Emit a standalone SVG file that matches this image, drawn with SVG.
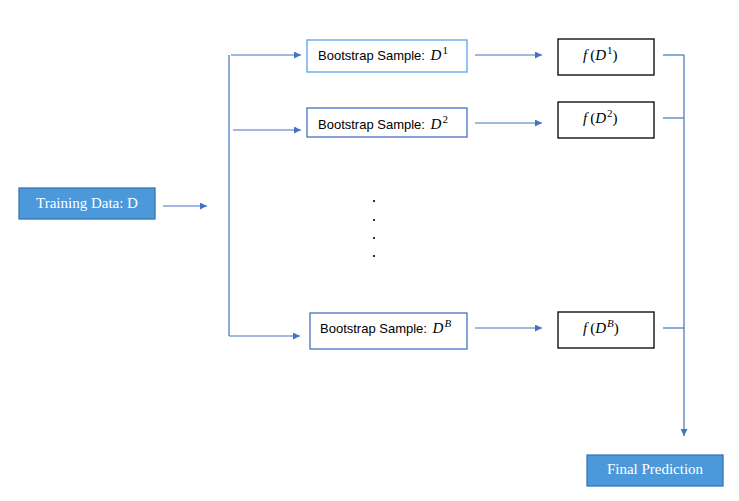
<svg xmlns="http://www.w3.org/2000/svg" width="739" height="501" viewBox="0 0 739 501">
<defs>
<marker id="ah" viewBox="0 0 10 10" refX="10" refY="5" markerWidth="7" markerHeight="7" markerUnits="userSpaceOnUse" orient="auto"><path d="M0,0 L10,5 L0,10 z" fill="#4472C4"/></marker>
<style>
.ln{stroke:#4472C4;stroke-width:1.2;fill:none}
.solid{fill:#4B98DA;stroke:#3A76AE;stroke-width:1.3}
.bs{fill:#fff;stroke:#4472C4;stroke-width:1.3}
.bs1{fill:#fff;stroke:#5BA3E6;stroke-width:1.3}
.fb{fill:#fff;stroke:#000;stroke-width:1.3}
.wt{font-family:"Liberation Serif",serif;font-size:15px;fill:#fff;text-anchor:middle}
.st{font-family:"Liberation Sans",Arial,sans-serif;font-size:13px;fill:#000}
.m{font-family:"Liberation Serif",serif;font-style:italic;font-size:15px}
.sup{font-family:"Liberation Serif",serif;font-style:normal;font-size:11px}
.supi{font-family:"Liberation Serif",serif;font-style:italic;font-size:11px}
.ft{font-family:"Liberation Serif",serif;font-size:15px;fill:#000}
.dot{fill:#333}
</style>
</defs>
<g id="connectors">
<line class="ln" x1="163" y1="206" x2="207" y2="206" marker-end="url(#ah)"/>
<line class="ln" x1="229" y1="55" x2="229" y2="336"/>
<line class="ln" x1="231" y1="55" x2="301" y2="55" marker-end="url(#ah)"/>
<line class="ln" x1="233" y1="130" x2="301" y2="130" marker-end="url(#ah)"/>
<line class="ln" x1="229" y1="336" x2="300" y2="336" marker-end="url(#ah)"/>
<line class="ln" x1="475" y1="55" x2="542" y2="55" marker-end="url(#ah)"/>
<line class="ln" x1="475" y1="123" x2="542" y2="123" marker-end="url(#ah)"/>
<line class="ln" x1="475" y1="328" x2="542" y2="328" marker-end="url(#ah)"/>
<line class="ln" x1="663" y1="55" x2="684" y2="55"/>
<line class="ln" x1="663" y1="118" x2="684" y2="118"/>
<line class="ln" x1="663" y1="328" x2="684" y2="328"/>
<line class="ln" x1="684" y1="55" x2="684" y2="436" marker-end="url(#ah)"/>
</g>
<g id="training">
<rect class="solid" x="19" y="188" width="136" height="31"/>
<text class="wt" x="87" y="208">Training Data: D</text>
</g>
<g id="bs1">
<rect class="bs1" x="307" y="40" width="160" height="32"/>
<text class="st" x="318" y="60">Bootstrap Sample: <tspan class="m" dx="2">D</tspan><tspan class="sup" dx="1" dy="-6">1</tspan></text>
</g>
<g id="bs2">
<rect class="bs" x="307" y="108" width="160" height="29"/>
<text class="st" x="318" y="129">Bootstrap Sample: <tspan class="m" dx="2">D</tspan><tspan class="sup" dx="1" dy="-6">2</tspan></text>
</g>
<g id="bsB">
<rect class="bs" x="310" y="313" width="157" height="36"/>
<text class="st" x="320" y="333">Bootstrap Sample: <tspan class="m" dx="2">D</tspan><tspan class="supi" dx="1" dy="-6">B</tspan></text>
</g>
<g id="f1">
<rect class="fb" x="558" y="39" width="96" height="36"/>
<text class="ft" x="583" y="60"><tspan font-style="italic">f</tspan><tspan dx="3">(</tspan><tspan font-style="italic">D</tspan><tspan font-size="11" dx="1" dy="-6">1</tspan><tspan dy="6">)</tspan></text>
</g>
<g id="f2">
<rect class="fb" x="558" y="102" width="96" height="36"/>
<text class="ft" x="583" y="123"><tspan font-style="italic">f</tspan><tspan dx="3">(</tspan><tspan font-style="italic">D</tspan><tspan font-size="11" dx="1" dy="-6">2</tspan><tspan dy="6">)</tspan></text>
</g>
<g id="fB">
<rect class="fb" x="558" y="312" width="96" height="36"/>
<text class="ft" x="583" y="333"><tspan font-style="italic">f</tspan><tspan dx="3">(</tspan><tspan font-style="italic">D</tspan><tspan font-size="11" font-style="italic" dx="1" dy="-6">B</tspan><tspan dy="6">)</tspan></text>
</g>
<g id="dots">
<rect class="dot" x="373" y="200" width="2" height="2"/>
<rect class="dot" x="373" y="219" width="2" height="2"/>
<rect class="dot" x="373" y="237" width="2" height="2"/>
<rect class="dot" x="373" y="255" width="2" height="2"/>
</g>
<g id="final">
<rect class="solid" x="587" y="455" width="136" height="31"/>
<text class="wt" x="655" y="474">Final Prediction</text>
</g>
</svg>
